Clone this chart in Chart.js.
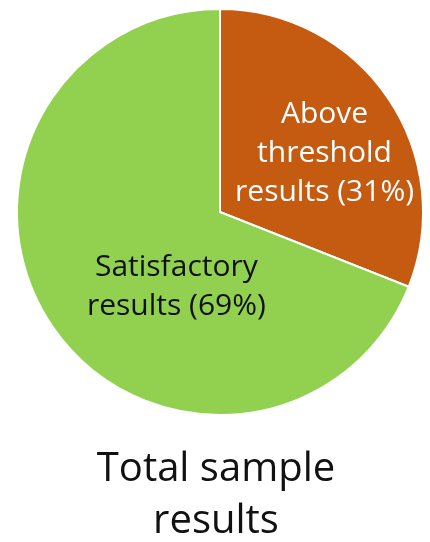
<!DOCTYPE html>
<html>
<head>
<meta charset="utf-8">
<script src="https://cdn.jsdelivr.net/npm/chart.js@4.4.1/dist/chart.umd.min.js"></script>
<style>
    html, body { margin: 0; padding: 0; background: #ffffff; }
    #wrap { width: 430px; height: 542px; }
</style>
</head>
<body>
<div id="wrap"><canvas id="pieChart" width="430" height="542"></canvas></div>
<script>
// 数据
const categories = ['Above threshold results', 'Satisfactory results'];
const labelLines = [['Above', 'threshold', 'results (31%)'], ['Satisfactory', 'results (69%)']];
const shares = [31, 69];
const sliceColors = ['#C55A11', '#92D050'];
const labelColors = ['#ffffff', '#111111'];
const titleLines = ['Total sample', 'results'];

const FONT = '"Open Sans", Lato, sans-serif';

// 扇区内的文字标签
const sliceLabels = {
    id: 'sliceLabels',
    afterDatasetsDraw(chart, args, opts) {
        const ctx = chart.ctx;
        const meta = chart.getDatasetMeta(0);
        ctx.save();
        ctx.textAlign = 'center';
        ctx.textBaseline = 'middle';
        ctx.font = opts.size + 'px ' + FONT;
        meta.data.forEach((arc, i) => {
            const r = arc.outerRadius;
            const off = opts.offsets[i];
            const cx = arc.x + off[0] * r;
            const cy = arc.y + off[1] * r;
            const lines = labelLines[i];
            const top = cy - (lines.length - 1) * opts.lineHeight / 2;
            ctx.fillStyle = labelColors[i];
            lines.forEach((line, j) => ctx.fillText(line, cx, top + j * opts.lineHeight));
        });
        ctx.restore();
    }
};

// 底部标题
const bottomTitle = {
    id: 'bottomTitle',
    afterDraw(chart, args, opts) {
        const ctx = chart.ctx;
        ctx.save();
        ctx.textAlign = 'center';
        ctx.textBaseline = 'middle';
        ctx.font = opts.size + 'px ' + FONT;
        ctx.fillStyle = '#111111';
        const cx = chart.width / 2 + opts.dx;
        titleLines.forEach((line, j) => ctx.fillText(line, cx, opts.y + j * opts.lineHeight));
        ctx.restore();
    }
};

new Chart(document.getElementById('pieChart'), {
    type: 'pie',
    data: {
        labels: categories,
        datasets: [{
            data: shares,
            backgroundColor: sliceColors,
            borderColor: '#ffffff',
            borderWidth: 2
        }]
    },
    options: {
        responsive: false,
        animation: false,
        layout: { padding: { left: 16, right: 6, top: 8, bottom: 126 } },
        plugins: {
            legend: { display: false },
            tooltip: { enabled: false },
            sliceLabels: { size: 30, lineHeight: 39, offsets: [[0.515, -0.29], [-0.215, 0.37]] },
            bottomTitle: { size: 40, lineHeight: 52, y: 470, dx: 1 }
        }
    },
    plugins: [sliceLabels, bottomTitle]
});
</script>
</body>
</html>
